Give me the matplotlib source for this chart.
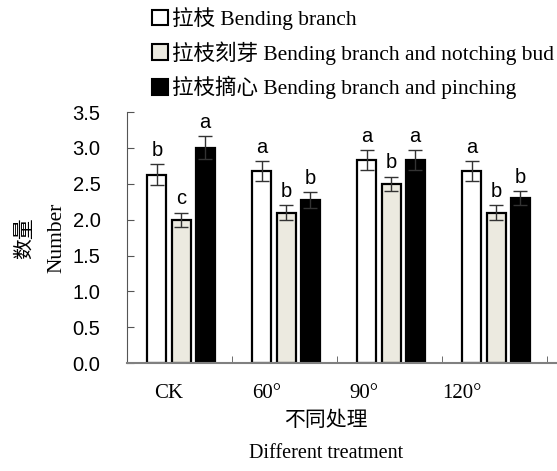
import numpy as np
import matplotlib
matplotlib.use("Agg")
import matplotlib.pyplot as plt
from matplotlib.patches import Patch

# data
categories = ["CK", "60°", "90°", "120°"]
series_names = ["拉枝 Bending branch",
                "拉枝刻芽 Bending branch and notching bud",
                "拉枝摘心 Bending branch and pinching"]
bend = [2.63, 2.68, 2.83, 2.68]
notch = [2.0, 2.1, 2.5, 2.1]
pinch = [3.0, 2.27, 2.83, 2.3]
bend_err = [0.14, 0.14, 0.14, 0.14]
notch_err = [0.1, 0.1, 0.1, 0.1]
pinch_err = [0.16, 0.11, 0.14, 0.1]
bend_sig = ["b", "a", "a", "a"]
notch_sig = ["c", "b", "b", "b"]
pinch_sig = ["a", "b", "a", "b"]

serif = ["Liberation Serif", "Noto Sans CJK SC"]
colors = ["white", "#ECEAE0", "black"]

fig = plt.figure(figsize=(5.57, 4.71), dpi=100)
ax = fig.add_axes([0.228, 0.229, 0.772, 0.533])

x = np.arange(len(categories))
w = 0.18
offs = [-0.215, 0.015, 0.245]
vals = [bend, notch, pinch]
errs = [bend_err, notch_err, pinch_err]
sigs = [bend_sig, notch_sig, pinch_sig]

for k in range(3):
    ax.bar(x + offs[k], vals[k], w, color=colors[k], edgecolor="black",
           linewidth=1.6, zorder=2)
    ax.errorbar(x + offs[k], vals[k], yerr=errs[k], fmt="none",
                ecolor="#333333", elinewidth=1.0, capsize=5, capthick=1.0, zorder=3)
    for i in range(len(categories)):
        ax.text(x[i] + offs[k], vals[k][i] + errs[k][i] + 0.06, sigs[k][i],
                ha="center", va="bottom", fontsize=14.5, family="Liberation Sans")

ax.set_xlim(-0.5, 3.595)
ax.set_ylim(0, 3.5)
ax.set_yticks(np.arange(0, 3.51, 0.5))
ax.set_yticklabels([f"{v:.1f}" for v in np.arange(0, 3.51, 0.5)],
                   family="Liberation Sans", fontsize=14.5)
# the category labels sit a little left of the bar groups in the original
ax.set_xticks(x * 0.93 - 0.1)
ax.set_xticklabels(categories, family="Liberation Serif", fontsize=15)
ax.tick_params(axis="x", length=0, pad=15)
ax.tick_params(axis="y", direction="in", length=5, color="#555555", pad=19)
# small boundary ticks between groups
ax.set_xticks(np.arange(-0.5, len(categories)), minor=True)
ax.tick_params(axis="x", which="minor", direction="in", length=5, color="#555555")

for s in ["top", "right"]:
    ax.spines[s].set_visible(False)
ax.spines["left"].set_color("#555555")
ax.spines["bottom"].set_color("#808080")
ax.spines["bottom"].set_linewidth(1.5)

fig.text(0.047, 0.495, "数量", rotation=90, ha="center", va="center",
         family=serif, fontsize=15)
fig.text(0.102, 0.495, "Number", rotation=90, ha="center", va="center",
         family=serif, fontsize=15.5)
fig.text(0.585, 0.106, "不同处理", ha="center", va="center", family=serif, fontsize=15)
fig.text(0.585, 0.038, "Different treatment", ha="center", va="center",
         family=serif, fontsize=14.5)

handles = [Patch(facecolor=c, edgecolor="black", linewidth=1.5) for c in colors]
fig.legend(handles, series_names, loc="upper left", bbox_to_anchor=(0.238, 1.026),
           frameon=False, prop={"family": serif, "size": 15.5},
           handlelength=0.75, handleheight=0.75, handletextpad=0.2, labelspacing=0.52)

fig.savefig("out.png", dpi=100)
